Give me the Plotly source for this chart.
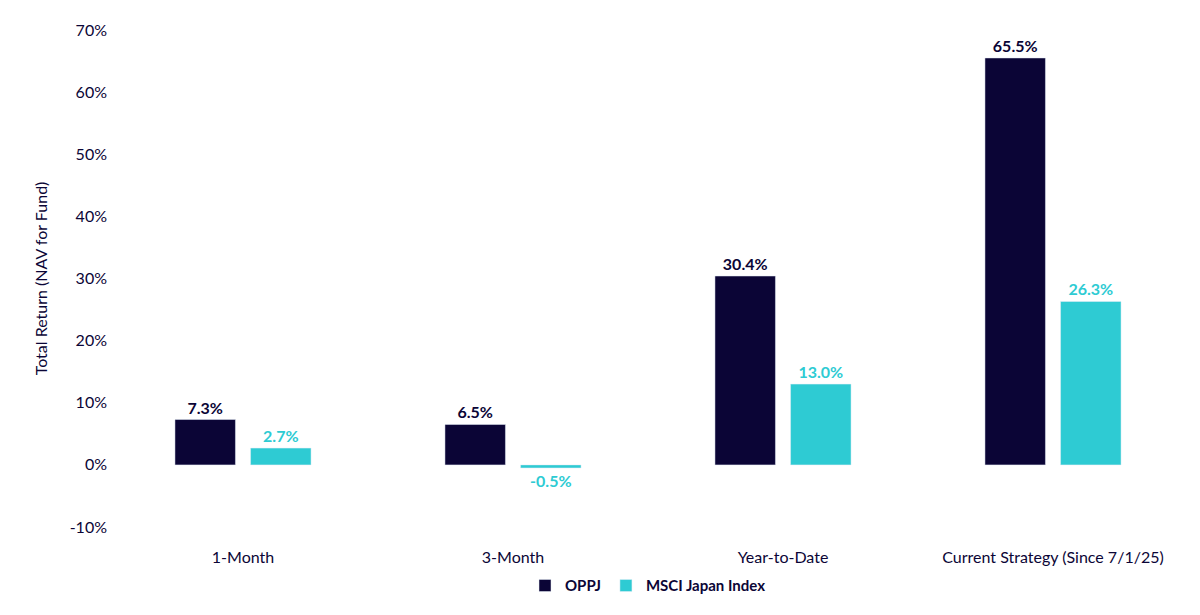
import plotly.graph_objects as go

categories = ["1-Month", "3-Month", "Year-to-Date", "Current Strategy (Since 7/1/25)"]
oppj = [7.3, 6.5, 30.4, 65.5]
msci = [2.7, -0.5, 13.0, 26.3]
tick_vals = [-10, 0, 10, 20, 30, 40, 50, 60, 70]
tick_text = ["-10%", "0%", "10%", "20%", "30%", "40%", "50%", "60%", "70%"]

navy = "#0b0536"
teal = "#2ecbd3"
font = "Lato"

fig = go.Figure()
fig.add_bar(name="OPPJ", x=categories, y=oppj, marker_color=navy,
            text=[f"{v:.1f}%" for v in oppj], textposition="outside",
            textfont=dict(color=navy, size=16, family=font, weight="bold"), cliponaxis=False)
fig.add_bar(name="MSCI Japan Index", x=categories, y=msci, marker_color=teal,
            text=[f"{v:.1f}%" for v in msci], textposition="outside",
            textfont=dict(color=teal, size=16, family=font, weight="bold"), cliponaxis=False)

fig.update_layout(
    width=1200, height=615, plot_bgcolor="white", paper_bgcolor="white",
    margin=dict(l=100, r=20, t=18, b=96),
    barmode="group", bargap=0.44, bargroupgap=0.2,
    font=dict(family=font, color=navy, size=15),
    legend=dict(orientation="h", x=0.5, xanchor="center", y=-0.085, yanchor="top",
                font=dict(size=15, family=font, weight="bold"), traceorder="normal"),
    xaxis=dict(showline=False, ticks="outside", ticklen=16, tickcolor="white",
               tickfont=dict(size=16)),
    yaxis=dict(range=[-10, 70], tickvals=tick_vals, ticktext=tick_text, showgrid=False,
               zeroline=False, tickfont=dict(size=16),
               title=dict(text="Total Return (NAV for Fund)", font=dict(size=16), standoff=18)),
)
fig.write_html("out.html")
